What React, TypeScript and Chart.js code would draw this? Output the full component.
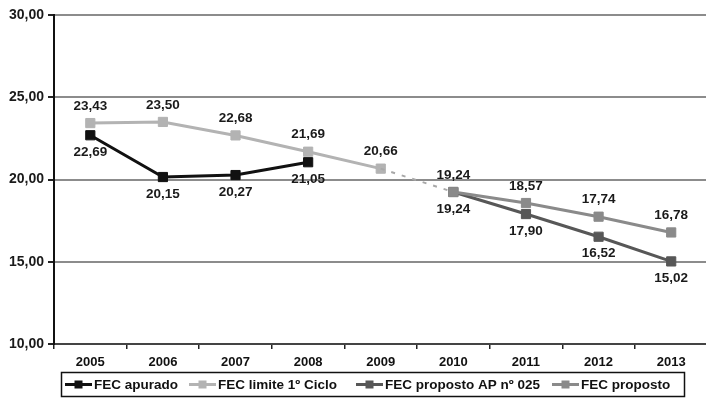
import React, { useEffect, useRef } from 'react';
import { Chart, registerables } from 'chart.js';

Chart.register(...registerables);

const years = ['2005', '2006', '2007', '2008', '2009', '2010', '2011', '2012', '2013'];
const fecApurado = [22.69, 20.15, 20.27, 21.05, null, null, null, null, null];
const fecLimite = [23.43, 23.5, 22.68, 21.69, 20.66, null, null, null, null];
const fecLigacao = [null, null, null, null, 20.66, 19.24, null, null, null];
const fecPropostoAP = [null, null, null, null, null, 19.24, 17.9, 16.52, 15.02];
const fecProposto = [null, null, null, null, null, 19.24, 18.57, 17.74, 16.78];
const yMin = 10;
const yMax = 30;
const yStep = 5;

const fmt = (v: number) => v.toFixed(2).replace('.', ',');
const FONT = '"Liberation Sans", Arial, sans-serif';

// value labels above or below each point
const valueLabels = {
  id: 'valueLabels',
  afterDatasetsDraw(chart: any) {
    const ctx = chart.ctx;
    ctx.save();
    ctx.font = `bold 13.5px ${FONT}`;
    ctx.fillStyle = '#1a1a1a';
    ctx.textAlign = 'center';
    ctx.textBaseline = 'middle';
    chart.data.datasets.forEach((ds: any, i: number) => {
      if (!ds.labelSide) return;
      const meta = chart.getDatasetMeta(i);
      meta.data.forEach((pt: any, j: number) => {
        const v = ds.data[j];
        if (v == null) return;
        const dy = ds.labelSide === 'above' ? -17 : 17;
        ctx.fillText(fmt(v), pt.x, pt.y + dy);
      });
    });
    ctx.restore();
  },
};

// boxed legend under the axis, entries in legendOrder
const boxLegend = {
  id: 'boxLegend',
  afterDraw(chart: any) {
    const ctx = chart.ctx;
    const items = chart.data.datasets
      .filter((d: any) => d.legendOrder != null)
      .sort((a: any, b: any) => a.legendOrder - b.legendOrder);
    const starts = [65, 189, 356, 552];
    const boxL = 61.5;
    const boxR = 684.5;
    const boxT = 372.5;
    const boxB = 396.5;
    ctx.save();
    ctx.font = `bold 13.5px ${FONT}`;
    ctx.strokeStyle = '#111';
    ctx.lineWidth = 1.5;
    ctx.strokeRect(boxL, boxT, boxR - boxL, boxB - boxT);
    const y = (boxT + boxB) / 2;
    const markW = 27;
    items.forEach((d: any, k: number) => {
      const x = starts[k];
      ctx.strokeStyle = d.borderColor;
      ctx.lineWidth = 3;
      ctx.beginPath();
      ctx.moveTo(x, y);
      ctx.lineTo(x + markW, y);
      ctx.stroke();
      ctx.fillStyle = d.borderColor;
      ctx.fillRect(x + markW / 2 - 4, y - 4, 8, 8);
      ctx.fillStyle = '#111';
      ctx.textAlign = 'left';
      ctx.textBaseline = 'middle';
      ctx.fillText(d.label, x + markW + 2, y + 1);
    });
    ctx.restore();
  },
};

function lineSet(label: string, data: (number | null)[], color: string, labelSide: string, legendOrder: number) {
  return {
    label,
    data,
    borderColor: color,
    backgroundColor: color,
    borderWidth: 3,
    pointStyle: 'rect',
    pointRadius: 6.5,
    pointBorderWidth: 1,
    pointBackgroundColor: color,
    pointBorderColor: color,
    spanGaps: false,
    labelSide,
    legendOrder,
  };
}

export default function App() {
  const ref = useRef<HTMLCanvasElement | null>(null);

  useEffect(() => {
    document.body.style.margin = '0';
    const canvas = ref.current;
    if (!canvas) return;
    const chart = new Chart(canvas, {
      type: 'line',
      data: {
        labels: years,
        datasets: [
          {
            label: 'ligacao',
            data: fecLigacao,
            borderColor: '#a8a8a8',
            borderWidth: 2,
            borderDash: [4, 7],
            pointRadius: 0,
          } as any,
          lineSet('FEC limite 1º Ciclo', fecLimite, '#b3b3b3', 'above', 1),
          lineSet('FEC proposto', fecProposto, '#8a8a8a', 'above', 3),
          lineSet('FEC proposto AP nº 025', fecPropostoAP, '#575757', 'below', 2),
          lineSet('FEC apurado', fecApurado, '#111111', 'below', 0),
        ],
      },
      options: {
        animation: false,
        responsive: false,
        devicePixelRatio: 1,
        layout: { padding: { top: 15, left: 0, right: 0, bottom: 0 } },
        plugins: {
          legend: { display: false },
          tooltip: { enabled: false },
        },
        scales: {
          x: {
            offset: true,
            grid: {
              display: true,
              offset: true,
              drawOnChartArea: false,
              drawTicks: true,
              tickLength: 5,
              color: '#222',
              lineWidth: 1.5,
            },
            border: { display: true, color: '#444', width: 2 },
            ticks: {
              color: '#111',
              font: { family: FONT, size: 13, weight: 'bold' },
              padding: 6,
              maxRotation: 0,
            },
            afterFit: (s: any) => {
              s.height = 56;
            },
          },
          y: {
            min: yMin,
            max: yMax,
            ticks: {
              stepSize: yStep,
              color: '#1a1a1a',
              font: { family: FONT, size: 14, weight: 'bold' },
              padding: 4,
              callback: (v: any) => fmt(Number(v)),
            },
            grid: {
              color: '#8c8c8c',
              lineWidth: 2,
              tickLength: 6,
              tickColor: '#222',
            },
            border: { display: true, color: '#111', width: 2 },
            afterFit: (s: any) => {
              s.width = 54;
            },
          },
        },
      } as any,
      plugins: [valueLabels, boxLegend],
    });
    return () => chart.destroy();
  }, []);

  return (
    <div style={{ width: 706, height: 400, overflow: 'hidden', position: 'relative', background: '#fff' }}>
      <canvas ref={ref} width={715} height={400} style={{ position: 'absolute', left: 0, top: 0 }} />
    </div>
  );
}
